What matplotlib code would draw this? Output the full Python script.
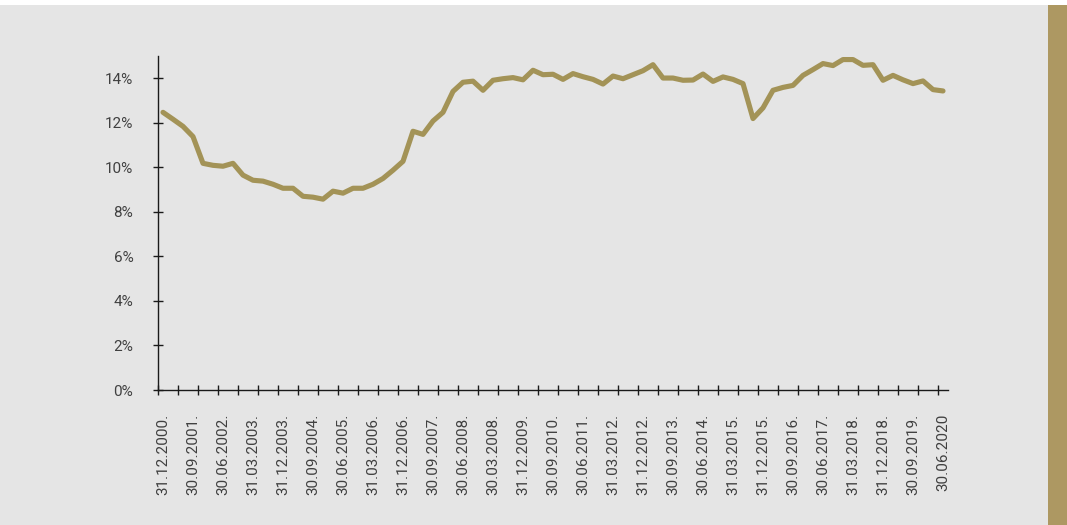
import matplotlib
matplotlib.use("Agg")
import matplotlib.pyplot as plt
from matplotlib.patches import Rectangle
from matplotlib.ticker import FixedLocator, FuncFormatter

plt.rcParams['font.family'] = ['Roboto', 'DejaVu Sans']

# Quarterly ratio (%), 31.12.2000 - 30.06.2020
ratio = [
    12.47, 12.16, 11.84, 11.38, 10.18, 10.09, 10.05, 10.18, 9.65, 9.42,
    9.38, 9.24, 9.06, 9.06, 8.70, 8.66, 8.57, 8.93, 8.84, 9.06,
    9.06, 9.24, 9.50, 9.87, 10.27, 11.62, 11.48, 12.08, 12.47, 13.41,
    13.82, 13.87, 13.46, 13.91, 13.98, 14.03, 13.93, 14.36, 14.16, 14.18,
    13.95, 14.21, 14.07, 13.95, 13.74, 14.10, 13.98, 14.16, 14.34, 14.61,
    14.01, 14.01, 13.91, 13.92, 14.19, 13.86, 14.06, 13.95, 13.76, 12.19,
    12.67, 13.46, 13.59, 13.68, 14.13, 14.39, 14.66, 14.57, 14.84, 14.84,
    14.58, 14.61, 13.91, 14.13, 13.93, 13.76, 13.88, 13.49, 13.43,
]

date_labels = [
    "31.12.2000.", "30.09.2001.", "30.06.2002.", "31.03.2003.", "31.12.2003.",
    "30.09.2004.", "30.06.2005.", "31.03.2006.", "31.12.2006.", "30.09.2007.",
    "30.06.2008.", "30.03.2008.", "31.12.2009.", "30.09.2010.", "30.06.2011.",
    "31.03.2012.", "31.12.2012.", "30.09.2013.", "30.06.2014.", "31.03.2015.",
    "31.12.2015.", "30.09.2016.", "30.06.2017.", "31.03.2018.", "31.12.2018.",
    "30.09.2019.", "30.06.2020",
]

y_ticks = [0, 2, 4, 6, 8, 10, 12, 14]

W, H = 1067, 525
fig = plt.figure(figsize=(W / 100, H / 100), dpi=100)
fig.patch.set_facecolor("white")

# Panel background and gold side bar
fig.patches.append(Rectangle((0, 0), 1048 / W, 520 / H, transform=fig.transFigure,
                             facecolor="#e5e5e5", edgecolor="none", zorder=-10))
fig.patches.append(Rectangle((1048 / W, 0), 19 / W, 520 / H, transform=fig.transFigure,
                             facecolor="#ad9862", edgecolor="none", zorder=-10))

ax_left, ax_right = 158 / W, 948 / W
ax_bottom, ax_top = 1 - 390 / H, 1 - 56 / H
ax = fig.add_axes([ax_left, ax_bottom, ax_right - ax_left, ax_top - ax_bottom])
ax.set_facecolor("none")

n = len(ratio)
xs = [i + 0.5 for i in range(n)]
ax.plot(xs, ratio, color="#a39357", lw=3.7, solid_joinstyle="round",
        solid_capstyle="round", clip_on=False, zorder=3)

ax.set_xlim(0, n)
ax.set_ylim(0, 15)

for s in ("top", "right"):
    ax.spines[s].set_visible(False)
for s in ("left", "bottom"):
    ax.spines[s].set_color("#1a1a1a")
    ax.spines[s].set_linewidth(1.0)

text_color = "#404040"

# y axis
ax.yaxis.set_major_locator(FixedLocator(y_ticks))
ax.yaxis.set_major_formatter(FuncFormatter(lambda v, p: f"{int(v)}%"))
ax.tick_params(axis="y", direction="inout", length=7.5, width=1.0, color="#1a1a1a",
               labelsize=11, labelcolor=text_color, pad=14)

# x axis: tick marks every two quarters, labels every three quarters
ax.xaxis.set_major_locator(FixedLocator(list(range(0, n, 2))))
ax.xaxis.set_major_formatter(FuncFormatter(lambda v, p: ""))
ax.tick_params(axis="x", which="major", direction="inout", length=7.5, width=1.0,
               color="#1a1a1a")
label_pos = [0.5 + 3 * k for k in range(len(date_labels))]
ax.set_xticks(label_pos, minor=True)
ax.set_xticklabels(date_labels, minor=True, rotation=90, ha="center", va="top")
ax.tick_params(axis="x", which="minor", length=0, labelsize=11,
               labelcolor=text_color, pad=17)

fig.savefig("out.png", dpi=100)
